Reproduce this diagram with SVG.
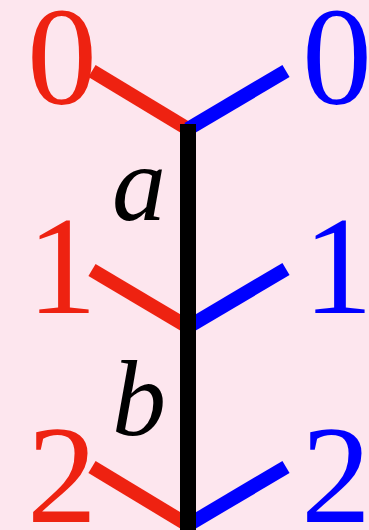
<svg xmlns="http://www.w3.org/2000/svg" width="369" height="530" viewBox="0 0 369 530">
<style>
.r{stroke:#ee2211;stroke-width:14;fill:none}
.b{stroke:#0000ff;stroke-width:14;fill:none}
.k{stroke:#000;stroke-width:16;fill:none}
.num{font-family:"Liberation Serif","Times New Roman",serif;font-size:140px;text-anchor:middle}
.lab{font-family:"Liberation Serif","Times New Roman",serif;font-style:italic;font-size:108px;text-anchor:middle;fill:#000}
</style>
<rect width="369" height="530" fill="#fde6ee"/>
<g id="connectors">
<line class="r" x1="92" y1="71" x2="188" y2="129"/>
<line class="b" x1="188" y1="129" x2="286" y2="71"/>
<line class="r" x1="92" y1="270" x2="188" y2="327"/>
<line class="b" x1="188" y1="327" x2="286" y2="269"/>
<line class="r" x1="92" y1="467" x2="188" y2="525"/>
<line class="b" x1="188" y1="525" x2="286" y2="467"/>
<line class="k" x1="188" y1="124" x2="188" y2="530"/>
</g>
<g id="left0"><text class="num" x="62" y="104" fill="#ee2211">0</text></g>
<g id="right0"><text class="num" x="337" y="104" fill="#0000ff">0</text></g>
<g id="left1"><text class="num" x="62" y="313" fill="#ee2211">1</text></g>
<g id="right1"><text class="num" x="338" y="313" fill="#0000ff">1</text></g>
<g id="left2"><text class="num" x="62" y="522" fill="#ee2211">2</text></g>
<g id="right2"><text class="num" x="336" y="522" fill="#0000ff">2</text></g>
<g id="labelA"><text class="lab" x="139" y="220">a</text></g>
<g id="labelB"><text class="lab" x="139" y="435">b</text></g>
</svg>
